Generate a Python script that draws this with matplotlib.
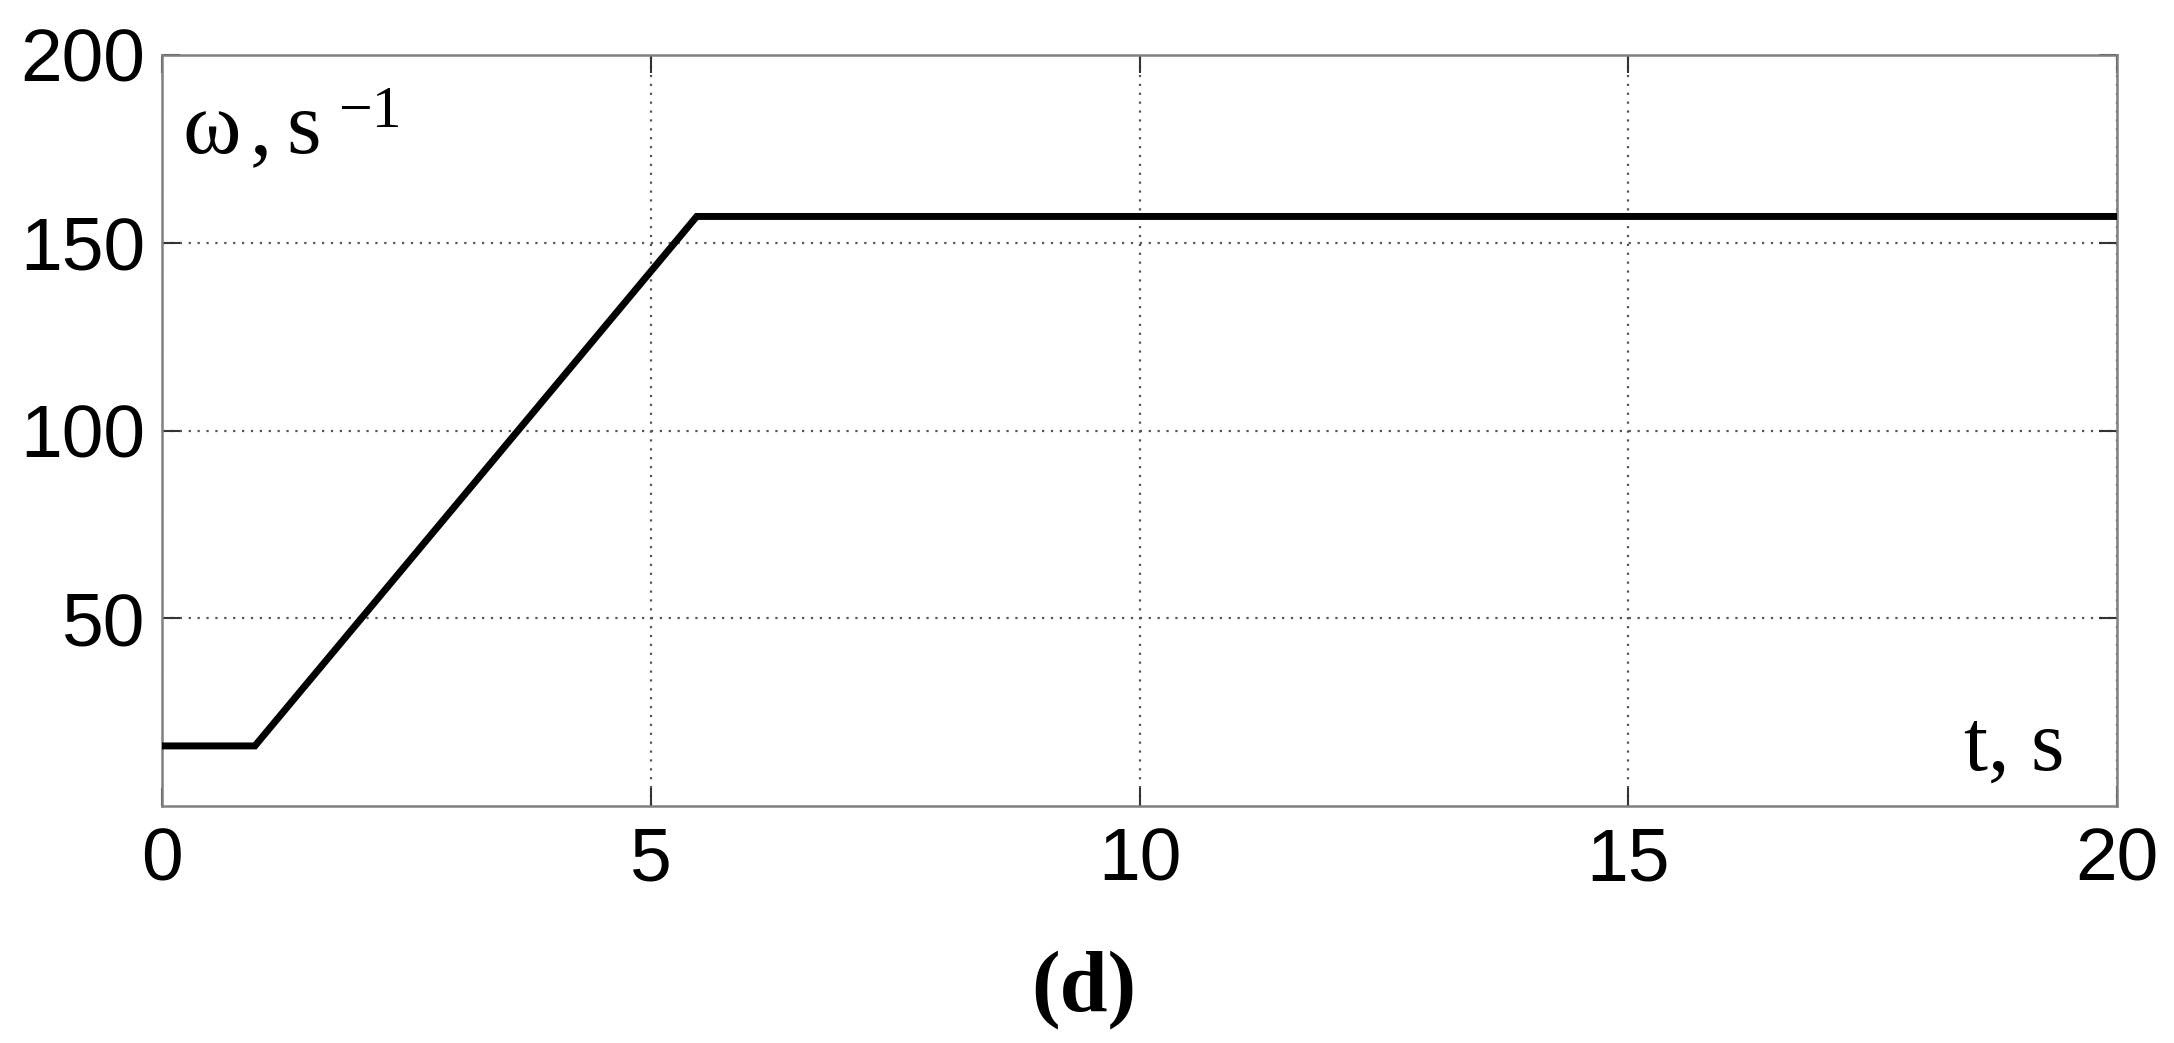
import matplotlib
matplotlib.use("Agg")
import matplotlib.pyplot as plt

# speed profile
t_s = [0.0, 0.95, 5.47, 20.0]
omega = [16.0, 16.0, 157.0, 157.0]

x_ticks = [0, 5, 10, 15, 20]
y_ticks = [50, 100, 150, 200]

W, H = 2174, 1043
fig = plt.figure(figsize=(W / 100, H / 100), dpi=100)
ax = fig.add_axes([162 / W, 1 - 806 / H, (2117 - 162) / W, (806 - 55) / H])

ax.plot(t_s, omega, color="black", lw=5.0, zorder=3, solid_joinstyle="miter")

ax.set_xlim(0, 20)
ax.set_ylim(0, 200)
ax.set_xticks(x_ticks)
ax.set_yticks(y_ticks)
ax.grid(True, color="#555555", lw=1.6, linestyle=(0, (1, 3)))

for s in ax.spines.values():
    s.set_color("#808080")
    s.set_linewidth(1.8)

ax.tick_params(direction="in", length=13, width=1.5, color="#333333",
               top=True, right=True, labelsize=54)
ax.tick_params(axis="x", pad=15)
ax.tick_params(axis="y", pad=12)
for lab in ax.get_xticklabels() + ax.get_yticklabels():
    lab.set_family("Liberation Sans")

serif = "Liberation Serif"
# axis labels drawn inside the plot, like the original
fig.text(182 / W, 1 - 153 / H, "\u03c9", family=serif, fontsize=64,
         ha="left", va="baseline")
fig.text(250 / W, 1 - 153 / H, ",", family=serif, fontsize=64,
         ha="left", va="baseline")
fig.text(286 / W, 1 - 153 / H, "s", family=serif, fontsize=64,
         ha="left", va="baseline")
fig.text(338 / W, 1 - 127 / H, "\u22121", family=serif, fontsize=43,
         ha="left", va="baseline")

fig.text(2064 / W, 1 - 770 / H, "t, s", family=serif, fontsize=62,
         ha="right", va="baseline")

fig.text(1084 / W, 1 - 1010 / H, "(d)", family=serif, fontsize=62,
         fontweight="bold", ha="center", va="baseline")

fig.savefig("out.png", dpi=100)
